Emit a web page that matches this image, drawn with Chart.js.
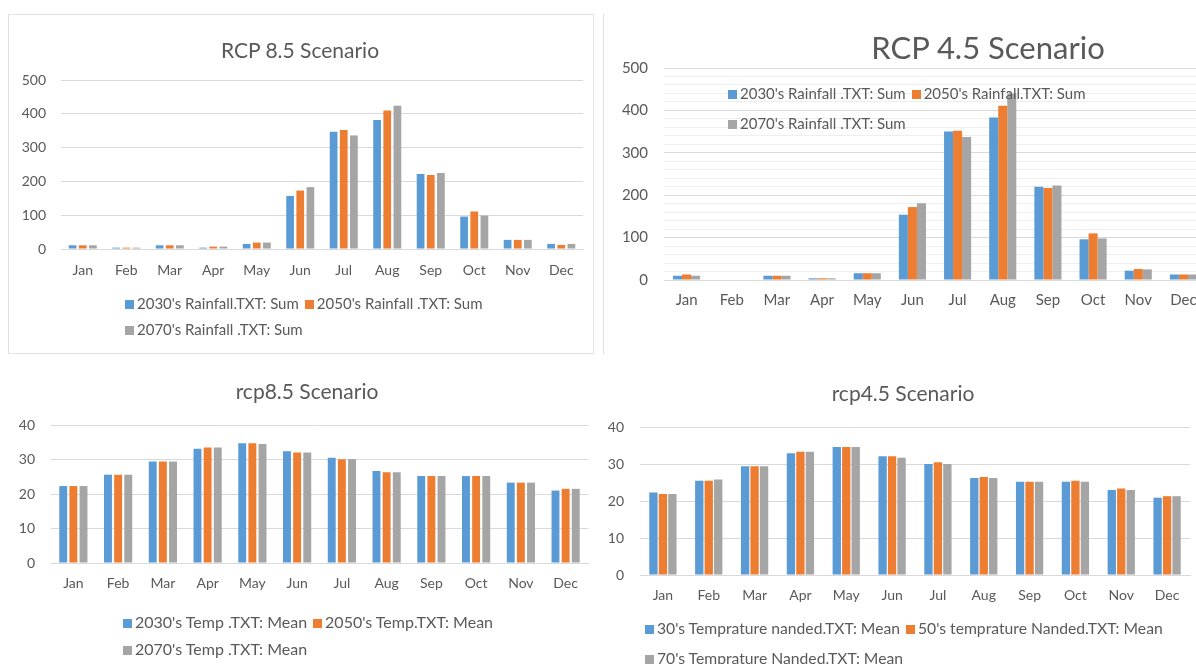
<!DOCTYPE html>
<html>
<head>
<meta charset="utf-8">
<title>Rainfall and temperature scenarios</title>
<script src="https://cdn.jsdelivr.net/npm/chart.js@4.4.0/dist/chart.umd.min.js"></script>
<style>
  body { margin: 0; width: 1196px; height: 664px; overflow: hidden; background: #fff; position: relative; font-family: Lato, sans-serif; }
  .wrap { position: absolute; }
  .frame { position: absolute; border: 1px solid #e2e2e2; }
  .vline { position: absolute; width: 1px; background: #e2e2e2; }
  .title { position: absolute; color: #595959; white-space: nowrap; transform: translate(-50%, -50%); }
  .legend { position: absolute; color: #595959; white-space: nowrap; }
  .legend .sw { display: inline-block; width: 9px; height: 9px; margin-right: 3px; }
  .legend .item { margin-right: 6px; }
</style>
</head>
<body>
<div class="frame" style="left:8px;top:14px;width:584px;height:338px;"></div>
<div class="vline" style="left:603px;top:14px;height:340px;"></div>

<div class="wrap" style="left:0;top:0;width:600px;height:360px;"><canvas id="rain85"></canvas></div>
<div class="wrap" style="left:590px;top:0;width:640px;height:320px;"><canvas id="rain45"></canvas></div>
<div class="wrap" style="left:0;top:370px;width:600px;height:294px;"><canvas id="temp85"></canvas></div>
<div class="wrap" style="left:590px;top:370px;width:606px;height:294px;"><canvas id="temp45"></canvas></div>

<div class="title" style="left:300px;top:49px;font-size:21px;">RCP 8.5 Scenario</div>
<div class="title" style="left:988px;top:47px;font-size:31px;">RCP 4.5 Scenario</div>
<div class="title" style="left:307px;top:390px;font-size:21px;">rcp8.5 Scenario</div>
<div class="title" style="left:903px;top:392px;font-size:21px;">rcp4.5 Scenario</div>

<div class="legend" id="leg-rain85" style="left:125px;top:290px;font-size:15px;line-height:26px;"></div>
<div class="legend" id="leg-rain45" style="left:728px;top:78px;font-size:15px;line-height:30px;"></div>
<div class="legend" id="leg-temp85" style="left:123px;top:608px;font-size:16px;line-height:27px;"></div>
<div class="legend" id="leg-temp45" style="left:645px;top:613px;font-size:15.7px;line-height:30px;"></div>

<script>
const months = ['Jan', 'Feb', 'Mar', 'Apr', 'May', 'Jun', 'Jul', 'Aug', 'Sep', 'Oct', 'Nov', 'Dec'];
const colors = ['#5B9BD5', '#ED7D31', '#A5A5A5'];

// RCP 8.5 rainfall (sum)
const rain85Labels = ["2030's Rainfall.TXT: Sum", "2050's Rainfall .TXT: Sum", "2070's Rainfall .TXT: Sum"];
const rain85_2030 = [11, 4, 11, 4, 15, 157, 347, 382, 222, 96, 27, 15];
const rain85_2050 = [11, 4, 11, 7, 19, 173, 352, 410, 219, 111, 27, 12];
const rain85_2070 = [11, 4, 11, 7, 19, 183, 336, 424, 225, 99, 27, 15];

// RCP 4.5 rainfall (sum)
const rain45Labels = ["2030's Rainfall .TXT: Sum", "2050's Rainfall.TXT: Sum", "2070's Rainfall .TXT: Sum"];
const rain45_2030 = [10, 0, 10, 4, 16, 154, 350, 383, 220, 96, 22, 13];
const rain45_2050 = [13, 0, 10, 4, 16, 172, 352, 411, 217, 110, 26, 13];
const rain45_2070 = [10, 0, 10, 4, 16, 181, 337, 440, 223, 98, 25, 13];

// rcp8.5 temperature (mean)
const temp85Labels = ["2030's Temp .TXT: Mean", "2050's Temp.TXT: Mean", "2070's Temp .TXT: Mean"];
const temp85_2030 = [22.3, 25.6, 29.4, 33.1, 34.7, 32.4, 30.5, 26.7, 25.2, 25.2, 23.3, 21.0];
const temp85_2050 = [22.3, 25.6, 29.4, 33.5, 34.7, 32.0, 30.1, 26.3, 25.2, 25.2, 23.3, 21.5];
const temp85_2070 = [22.3, 25.6, 29.4, 33.5, 34.5, 32.0, 30.1, 26.3, 25.2, 25.2, 23.3, 21.5];

// rcp4.5 temperature (mean)
const temp45Labels = ["30's Temprature nanded.TXT: Mean", "50's temprature Nanded.TXT: Mean", "70's Temprature Nanded.TXT: Mean"];
const temp45_30 = [22.3, 25.5, 29.4, 32.9, 34.6, 32.1, 30.0, 26.2, 25.2, 25.2, 23.0, 20.9];
const temp45_50 = [21.9, 25.5, 29.4, 33.3, 34.6, 32.1, 30.5, 26.5, 25.2, 25.5, 23.4, 21.3];
const temp45_70 = [21.9, 25.8, 29.4, 33.3, 34.6, 31.7, 30.0, 26.2, 25.2, 25.2, 23.0, 21.3];

Chart.defaults.font.family = 'Lato, sans-serif';
Chart.defaults.color = '#595959';

function makeSets(labels, series, catPct, barPct) {
  return series.map((s, i) => ({
    label: labels[i],
    data: s,
    backgroundColor: colors[i],
    categoryPercentage: catPct,
    barPercentage: barPct
  }));
}

function barChart(id, sets, o) {
  new Chart(document.getElementById(id).getContext('2d'), {
    type: 'bar',
    data: { labels: months, datasets: sets },
    options: {
      responsive: true,
      maintainAspectRatio: false,
      animation: false,
      layout: { padding: o.padding },
      plugins: { legend: { display: false }, title: { display: false }, tooltip: { enabled: false } },
      scales: {
        x: {
          grid: { display: false, drawTicks: false },
          border: { color: '#D9D9D9' },
          ticks: { font: { size: o.fontSize }, padding: o.xPad, maxRotation: 0, autoSkip: false },
          afterFit: (scale) => { scale.height = 40; }
        },
        y: {
          min: 0,
          max: o.max,
          border: { display: false },
          grid: { color: o.gridColor || '#D9D9D9', drawTicks: false },
          ticks: {
            stepSize: o.step,
            autoSkip: false,
            padding: o.yPad,
            font: { size: o.fontSize },
            callback: o.tickLabel || ((v) => v)
          },
          afterFit: (scale) => { scale.width = o.yWidth; }
        }
      }
    }
  });
}

function legend(id, labels, perRow) {
  const el = document.getElementById(id);
  let html = '';
  labels.forEach((l, i) => {
    if (i > 0 && i % perRow === 0) html += '<br>';
    html += '<span class="item"><span class="sw" style="background:' + colors[i] + '"></span>' + l + '</span>';
  });
  el.innerHTML = html;
}

// RCP 8.5 rainfall
barChart('rain85', makeSets(rain85Labels, [rain85_2030, rain85_2050, rain85_2070], 0.7, 0.76), {
  padding: { left: 11, right: 17, top: 80, bottom: 71 },
  max: 500, step: 100, fontSize: 14, xPad: 13, yPad: 15, yWidth: 50
});

// RCP 4.5 rainfall, minor gridlines every 20
barChart('rain45', makeSets(rain45Labels, [rain45_2030, rain45_2050, rain45_2070], 0.6, 1), {
  padding: { left: 19, right: 24, top: 68, bottom: 0 },
  max: 500, step: 20, fontSize: 15, xPad: 11, yPad: 16, yWidth: 55,
  gridColor: (ctx) => (ctx.tick && ctx.tick.value % 100 === 0) ? '#D9D9D9' : '#EEEEEE',
  tickLabel: (v) => (v % 100 === 0 ? v : '')
});

// rcp8.5 temperature
barChart('temp85', makeSets(temp85Labels, [temp85_2030, temp85_2050, temp85_2070], 0.68, 0.78), {
  padding: { left: 6, right: 12, top: 55, bottom: 61 },
  max: 40, step: 10, fontSize: 14, xPad: 12, yPad: 16, yWidth: 45
});

// rcp4.5 temperature
barChart('temp45', makeSets(temp45Labels, [temp45_30, temp45_50, temp45_70], 0.62, 0.88), {
  padding: { left: 5, right: 6, top: 57, bottom: 49 },
  max: 40, step: 10, fontSize: 14, xPad: 12, yPad: 16, yWidth: 45
});

legend('leg-rain85', rain85Labels, 2);
legend('leg-rain45', rain45Labels, 2);
legend('leg-temp85', temp85Labels, 2);
legend('leg-temp45', temp45Labels, 2);
</script>
</body>
</html>
